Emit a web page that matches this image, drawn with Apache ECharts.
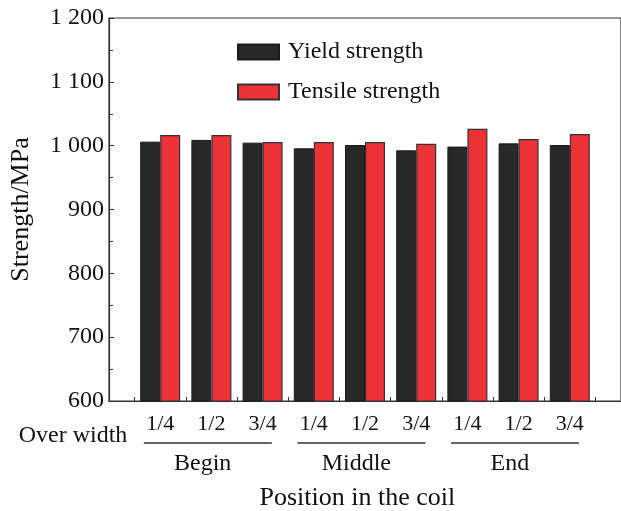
<!DOCTYPE html>
<html>
<head>
<meta charset="utf-8">
<script src="https://cdn.jsdelivr.net/npm/echarts@6/dist/echarts.min.js"></script>
<style>
html,body{margin:0;padding:0;background:#fff;}
#c{width:621px;height:511px;}
</style>
</head>
<body>
<div id="c"></div>
<script>
var subLabels = ['1/4', '1/2', '3/4', '1/4', '1/2', '3/4', '1/4', '1/2', '3/4'];
var groups = ['Begin', 'Middle', 'End'];
var yieldStrength = [1006.3, 1009, 1004.7, 995.9, 1001, 992.7, 998.5, 1003.6, 1001];
var tensileStrength = [1016.8, 1016.8, 1005.8, 1005.8, 1005.8, 1003, 1026.6, 1010.5, 1018.3];
var yTicks = [600, 700, 800, 900, 1000, 1100, 1200];

var positions = subLabels.map(function (_, i) { return i + 1; });
var boundaries = positions.map(function (p) { return p - 0.5; }).concat([positions.length + 0.5]);
var FONT = '"Liberation Serif", "Times New Roman", serif';

function fmtY(v) {
  var s = String(v);
  if (v >= 1000) s = s.slice(0, s.length - 3) + ' ' + s.slice(-3);
  return s;
}

var chart = echarts.init(document.getElementById('c'), null, { renderer: 'canvas' });
var option = {
  animation: false,
  backgroundColor: '#fff',
  grid: { left: 108, right: -3, top: 18, bottom: 110, show: true, borderColor: '#333', borderWidth: 1.2, containLabel: false },
  legend: {
    orient: 'vertical', left: 237, top: 40, padding: 0, itemWidth: 41, itemHeight: 15, itemGap: 16,
    icon: 'rect',
    textStyle: { fontFamily: FONT, fontSize: 24, lineHeight: 24, color: '#111', padding: [0, 0, 0, 4] },
    data: ['Yield strength', 'Tensile strength']
  },
  xAxis: {
    type: 'value', min: 0, max: 10,
    axisLine: { show: true, onZero: false, lineStyle: { color: '#333', width: 1.2 } },
    splitLine: { show: false },
    axisTick: { show: true, inside: true, length: 4, customValues: boundaries, lineStyle: { color: '#333' } },
    axisLabel: {
      customValues: positions, margin: 12,
      fontFamily: FONT, fontSize: 22, color: '#111',
      formatter: function (v) { return subLabels[Math.round(v) - 1] || ''; }
    }
  },
  yAxis: {
    type: 'value', min: yTicks[0], max: yTicks[yTicks.length - 1], interval: 100,
    name: 'Strength/MPa', nameLocation: 'middle', nameGap: 75,
    nameTextStyle: { fontFamily: FONT, fontSize: 26, color: '#111' },
    axisLine: { show: true, lineStyle: { color: '#333', width: 1.2 } },
    splitLine: { show: false },
    axisTick: { show: true, inside: true, length: 5, lineStyle: { color: '#333' } },
    minorTick: { show: true, splitNumber: 2, length: 4, lineStyle: { color: '#333' } },
    axisLabel: { fontFamily: FONT, fontSize: 24, color: '#111', margin: 5, formatter: fmtY }
  },
  series: [
    {
      name: 'Yield strength', type: 'bar', barWidth: 20, barGap: '0%',
      itemStyle: { color: '#282828', borderColor: '#1a1a1a', borderWidth: 1 },
      data: yieldStrength.map(function (v, i) { return [positions[i], v]; })
    },
    {
      name: 'Tensile strength', type: 'bar', barWidth: 20, barGap: '0%',
      itemStyle: { color: '#ee3338', borderColor: '#333', borderWidth: 1.2 },
      data: tensileStrength.map(function (v, i) { return [positions[i], v]; })
    }
  ]
};
chart.setOption(option);

// annotations under the axis, placed through the axis scale
var axisY = chart.convertToPixel({ gridIndex: 0 }, [0, yTicks[0]])[1];
var gfx = [];
groups.forEach(function (g, gi) {
  var first = positions[gi * 3], last = positions[gi * 3 + 2], mid = positions[gi * 3 + 1];
  var x1 = chart.convertToPixel({ xAxisIndex: 0 }, first - 0.32);
  var x2 = chart.convertToPixel({ xAxisIndex: 0 }, last + 0.18);
  var xm = chart.convertToPixel({ xAxisIndex: 0 }, mid - 0.17);
  gfx.push({ type: 'line', shape: { x1: x1, y1: axisY + 42, x2: x2, y2: axisY + 42 }, style: { stroke: '#333', lineWidth: 1.5 } });
  gfx.push({ type: 'text', x: xm, y: axisY + 63, style: { text: g, fontFamily: FONT, fontSize: 24, fill: '#111', align: 'center', verticalAlign: 'middle' } });
});
gfx.push({ type: 'text', x: 73, y: axisY + 35, style: { text: 'Over width', fontFamily: FONT, fontSize: 24, fill: '#111', align: 'center', verticalAlign: 'middle' } });
gfx.push({ type: 'text', x: chart.convertToPixel({ xAxisIndex: 0 }, 4.85), y: axisY + 97, style: { text: 'Position in the coil', fontFamily: FONT, fontSize: 26, fill: '#111', align: 'center', verticalAlign: 'middle' } });
chart.setOption({ graphic: gfx });
</script>
</body>
</html>
